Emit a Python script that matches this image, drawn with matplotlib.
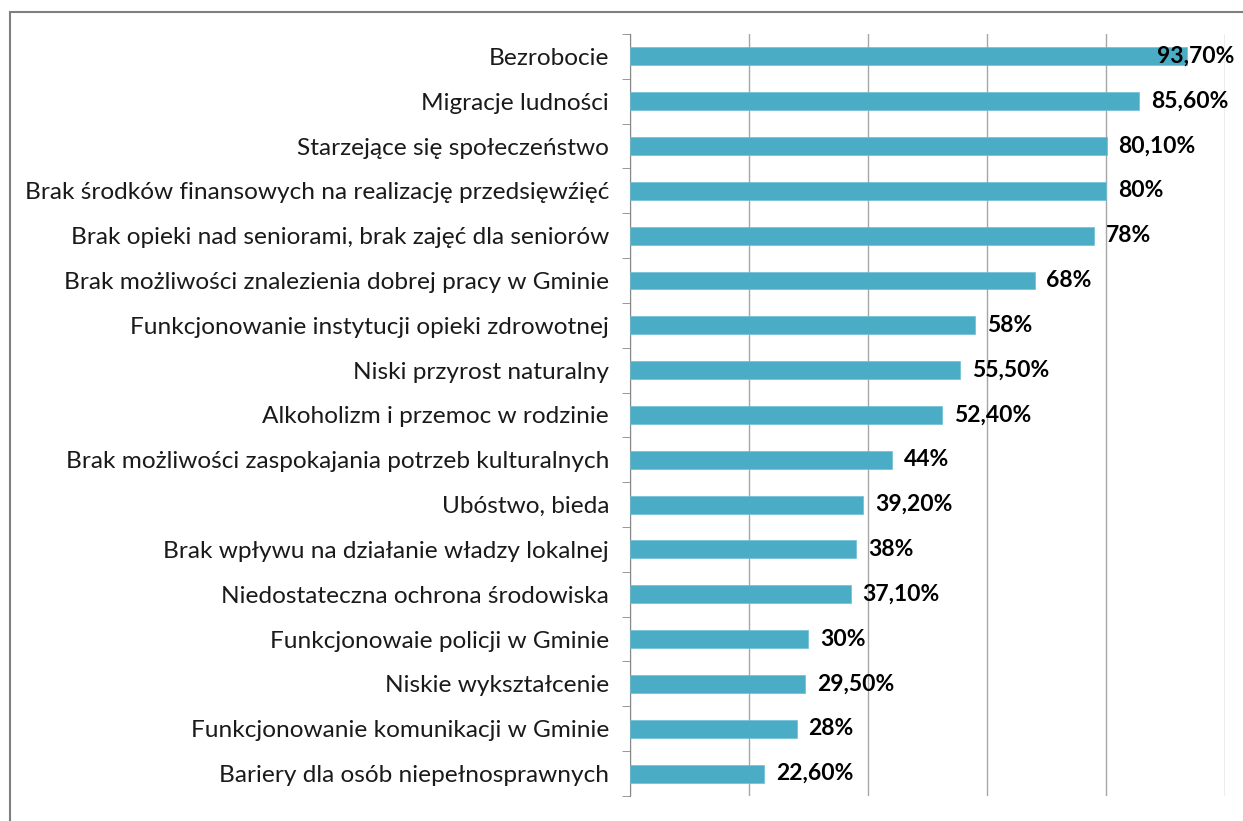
import numpy as np
import matplotlib.pyplot as plt
from matplotlib.patches import Rectangle

categories = [
    'Bezrobocie',
    'Migracje ludności',
    'Starzejące się społeczeństwo',
    'Brak środków finansowych na realizację przedsięwźięć',
    'Brak opieki nad seniorami, brak zajęć dla seniorów',
    'Brak możliwości znalezienia dobrej pracy w Gminie',
    'Funkcjonowanie instytucji opieki zdrowotnej',
    'Niski przyrost naturalny',
    'Alkoholizm i przemoc w rodzinie',
    'Brak możliwości zaspokajania potrzeb kulturalnych',
    'Ubóstwo, bieda',
    'Brak wpływu na działanie władzy lokalnej',
    'Niedostateczna ochrona środowiska',
    'Funkcjonowaie policji w Gminie',
    'Niskie wykształcenie',
    'Funkcjonowanie komunikacji w Gminie',
    'Bariery dla osób niepełnosprawnych',
]
values = [93.7, 85.6, 80.1, 80, 78, 68, 58, 55.5, 52.4, 44, 39.2, 38, 37.1, 30, 29.5, 28, 22.6]
labels = ['93,70%', '85,60%', '80,10%', '80%', '78%', '68%', '58%', '55,50%', '52,40%',
          '44%', '39,20%', '38%', '37,10%', '30%', '29,50%', '28%', '22,60%']

plt.rcParams['font.family'] = ['Lato', 'DejaVu Sans']

fig = plt.figure(figsize=(12.43, 8.21), dpi=100)
ax = fig.add_axes([0.5068, 0.0305, 0.9855 - 0.5068, 0.9586 - 0.0305])

# frame around the chart area
fig.patches.append(Rectangle((10 / 1243, -0.05), 1.1, 1 - 12 / 821 + 0.05,
                             transform=fig.transFigure, fill=False,
                             edgecolor='#7f7f7f', linewidth=1.5))

y = np.arange(len(categories))
ax.barh(y, values, height=0.4, color='#4bacc6', edgecolor='#6cbfd4', linewidth=0.5, zorder=3)

ax.set_xlim(0, 100)
ax.set_ylim(len(categories) - 0.5, -0.5)
ax.set_xticks(np.arange(0, 101, 20))
ax.set_xticklabels([])
ax.tick_params(axis='x', length=0)
ax.grid(axis='x', color='#a6a6a6', linewidth=1, zorder=0)

ax.set_yticks(y)
ax.set_yticklabels(categories, fontsize=17.6, color='#1a1a1a')
ax.set_yticks(np.arange(-0.5, len(categories), 1), minor=True)
ax.tick_params(axis='y', which='major', length=0, pad=15)
ax.tick_params(axis='y', which='minor', length=6, color='#888888')

for s in ['top', 'right', 'bottom']:
    ax.spines[s].set_visible(False)
ax.spines['left'].set_color('#888888')

for yi, v, lab in zip(y, values, labels):
    ax.text(min(v + 2, 88.5), yi, lab, va='center', ha='left',
            fontsize=16.5, fontweight='bold', color='black', zorder=4)

fig.savefig('out.png', dpi=100)
